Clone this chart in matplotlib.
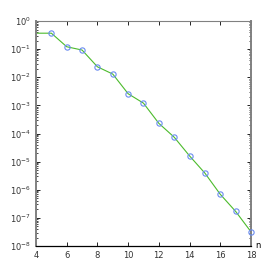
import matplotlib
matplotlib.use("Agg")
from matplotlib import pyplot as plt
from matplotlib.ticker import LogLocator, NullFormatter
import numpy as np

# data
n_line = [4, 5, 6, 7, 8, 9, 10, 11, 12, 13, 14, 15, 16, 17, 18]
err_line = [0.37, 0.37, 0.122, 0.093, 0.0236, 0.013, 0.0026, 0.0012,
            2.3e-4, 7.4e-5, 1.6e-5, 3.9e-6, 6.9e-7, 1.7e-7, 3.2e-8]
n_marks = n_line[1:]
err_marks = err_line[1:]
x_ticks = [4, 6, 8, 10, 12, 14, 16, 18]

fig = plt.figure(figsize=(2.77, 2.77), dpi=100)
ax = fig.add_axes([0.130, 0.112, 0.776, 0.812])

ax.plot(n_line, err_line, color='#4cbb2c', lw=0.8, zorder=2)
ax.plot(n_marks, err_marks, linestyle='None', marker='o', ms=3.8,
        mfc='none', mec='#6a8cf0', mew=0.8, zorder=3, clip_on=False)

ax.set_yscale('log')
ax.set_xlim(4, 18)
ax.set_ylim(1e-8, 1e0)
ax.set_xticks(x_ticks)
ax.yaxis.set_major_locator(LogLocator(base=10, numticks=12))
ax.yaxis.set_minor_locator(LogLocator(base=10, subs=np.arange(2, 10), numticks=12))
ax.yaxis.set_minor_formatter(NullFormatter())

ax.tick_params(which='both', direction='in', top=True, right=True, labelsize=6,
               labelcolor='#333333')
ax.tick_params(which='major', length=3, width=0.6)
ax.tick_params(which='minor', length=1.5, width=0.5)

for side in ['left', 'right']:
    ax.spines[side].set_color('#808080')
    ax.spines[side].set_linewidth(1.4)
ax.spines['top'].set_color('#808080')
ax.spines['top'].set_linewidth(0.8)
ax.spines['bottom'].set_color('black')
ax.spines['bottom'].set_linewidth(0.9)

ax.text(1.02, 0.0, 'n', transform=ax.transAxes, fontsize=6, va='center', ha='left')

fig.savefig('out.png', dpi=100)
